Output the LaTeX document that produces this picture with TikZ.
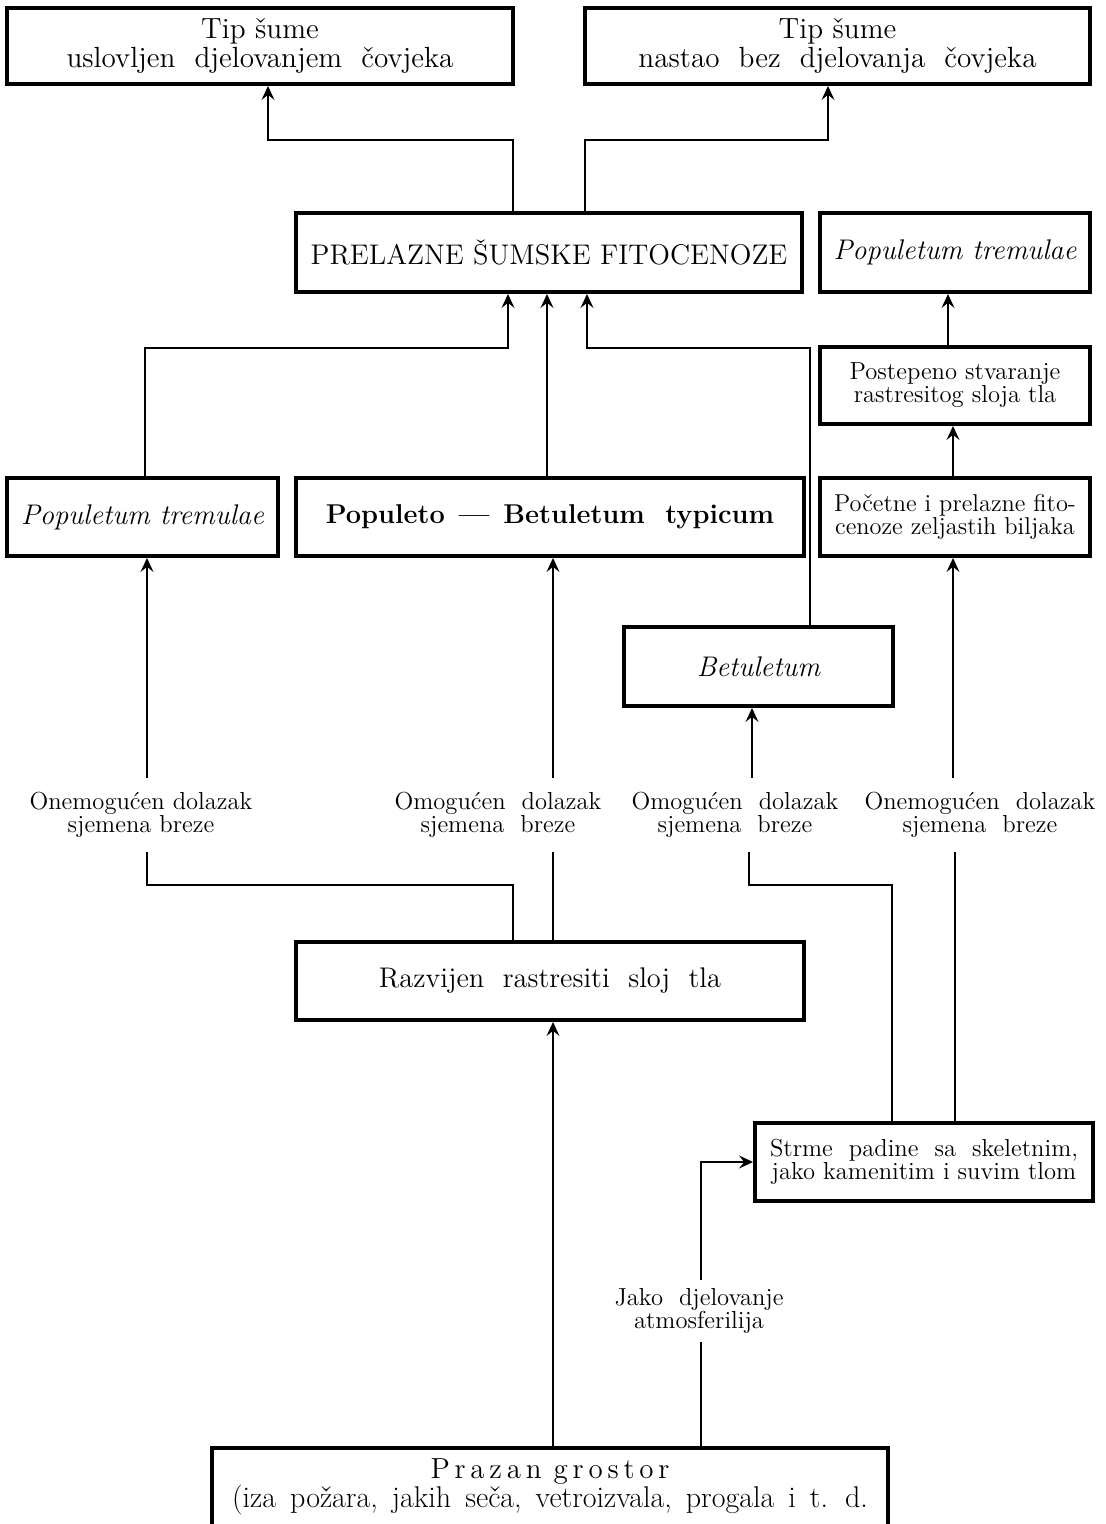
\documentclass[tikz,border=0pt]{standalone}
\usepackage{fontspec}
\usetikzlibrary{arrows.meta,calc}
\begin{document}
\begin{tikzpicture}[x=0.5pt,y=-0.5pt,
  box/.style={draw, line width=2pt, inner sep=0pt, align=center},
  arr/.style={-{Stealth[length=7pt,width=6.5pt,inset=2.6pt]}, line width=0.7pt},
  ln/.style={line width=0.7pt},
  lab/.style={align=center, inner xsep=0pt, inner ysep=7pt, font=\fontsize{12.3}{11.5}\selectfont},
  big/.style={font=\fontsize{14.6}{14.5}\selectfont},
  small/.style={font=\fontsize{12.3}{11.5}\selectfont}]
\useasboundingbox (0,0) rectangle (1105,1524);

% boxes
\node[box,big,minimum width=253pt,minimum height=38pt] (b1) at (260,46) {Tip šume\\uslovljen\ \ djelovanjem\ \ čovjeka};
\node[box,big,minimum width=252.5pt,minimum height=38pt] (b2) at (837.5,46) {Tip šume\\nastao\ \ bez\ \ djelovanja\ \ čovjeka};
\node[box,minimum width=253pt,minimum height=39.5pt,font=\fontsize{14.2}{17}\selectfont] (pr) at (549,252.5) {PRELAZNE ŠUMSKE FITOCENOZE};
\node[box,minimum width=135pt,minimum height=39.5pt,font=\fontsize{14.2}{17}\selectfont\itshape] (ptr) at (955,252.5) {Populetum tremulae};
\node[box,small,minimum width=135pt,minimum height=38.5pt] (post) at (955,385.5) {Postepeno stvaranje\\rastresitog\ sloja\ tla};
\node[box,minimum width=135pt,minimum height=39pt,font=\fontsize{12.2}{11.5}\selectfont] (poc) at (955,517) {Početne i prelazne fito-\\cenoze zeljastih biljaka};
\node[box,minimum width=135.5pt,minimum height=39pt,font=\fontsize{14.2}{17}\selectfont\itshape] (ptl) at (142.5,517) {Populetum tremulae};
\node[box,minimum width=254pt,minimum height=39pt,font=\fontsize{13.6}{17}\selectfont\bfseries] (pb) at (550,517) {Populeto\hspace{7pt}---\hspace{7pt}Betuletum\ \ typicum};
\node[box,minimum width=134.5pt,minimum height=39.5pt,font=\fontsize{14.2}{17}\selectfont\itshape] (bet) at (758.5,666.5) {Betuletum};
\node[box,minimum width=254pt,minimum height=39pt,font=\fontsize{14.2}{17}\selectfont] (raz) at (550,981) {Razvijen\ \ rastresiti\ \ sloj\ \ tla};
\node[box,small,minimum width=169pt,minimum height=39pt] (str) at (924,1162) {Strme\ \ padine\ \ sa\ \ skeletnim,\\jako kamenitim i suvim tlom};
\node[align=center,inner sep=0pt,minimum width=338pt,minimum height=39pt,font=\fontsize{15}{14.5}\selectfont] (praz) at (550,1487) {{\fontsize{14.5}{14.5}\selectfont P\kern2.4pt r\kern2.4pt a\kern2.4pt z\kern2.4pt a\kern2.4pt n\hspace{6pt}g\kern2.4pt r\kern2.4pt o\kern2.4pt s\kern2.4pt t\kern2.4pt o\kern2.4pt r}\\{\spaceskip=7pt (iza požara, jakih seča, vetroizvala, progala i t. d.}};
\draw[line width=2pt] ([yshift=-10pt]praz.south west) -- (praz.north west) -- (praz.north east) -- ([yshift=-10pt]praz.south east);

% labels
\node[lab] (l1) at (141,815) {Onemogućen dolazak\\sjemena breze};
\node[lab] (l2) at (498,815) {Omogućen\ \ dolazak\\sjemena\ \ breze};
\node[lab] (l3) at (735,815) {Omogućen\ \ dolazak\\sjemena\ \ breze};
\node[lab] (l4) at (980,815) {Onemogućen\ \ dolazak\\sjemena\ \ breze};
\node[lab,inner ysep=4pt] (jk) at (699,1311) {Jako\ \ djelovanje\\atmosferilija};

% connectors
\draw[arr] (pr.north -| 513,0) -- (513,140) -| (b1.south -| 268,0);
\draw[arr] (pr.north -| 585,0) -- (585,140) -| (b2.south -| 828,0);
\draw[arr] (ptl.north -| 145,0) |- (508,348) -- (pr.south -| 508,0);
\draw[arr] (pb.north -| 547,0) -- (pr.south -| 547,0);
\draw[arr] (bet.north -| 810,0) |- (587,348) -- (pr.south -| 587,0);
\draw[arr] (post.north -| 948,0) -- (ptr.south -| 948,0);
\draw[arr] (poc.north -| 953,0) -- (post.south -| 953,0);
\draw[arr] (l1.north -| 147,0) -- (ptl.south -| 147,0);
\draw[arr] (l2.north -| 553,0) -- (pb.south -| 553,0);
\draw[arr] (l3.north -| 752,0) -- (bet.south -| 752,0);
\draw[arr] (l4.north -| 953,0) -- (poc.south -| 953,0);
\draw[ln] (l1.south -| 147,0) |- (513,885) -- (raz.north -| 513,0);
\draw[ln] (l2.south -| 553,0) -- (raz.north -| 553,0);
\draw[ln] (l3.south -| 749,0) |- (892,885) -- (str.north -| 892,0);
\draw[ln] (l4.south -| 955,0) -- (str.north -| 955,0);
\draw[arr] (praz.north -| 553,0) -- (raz.south -| 553,0);
\draw[ln] (praz.north -| 701,0) -- (jk.south -| 701,0);
\draw[arr] (jk.north -| 701,0) |- (str.west);
\end{tikzpicture}
\end{document}
